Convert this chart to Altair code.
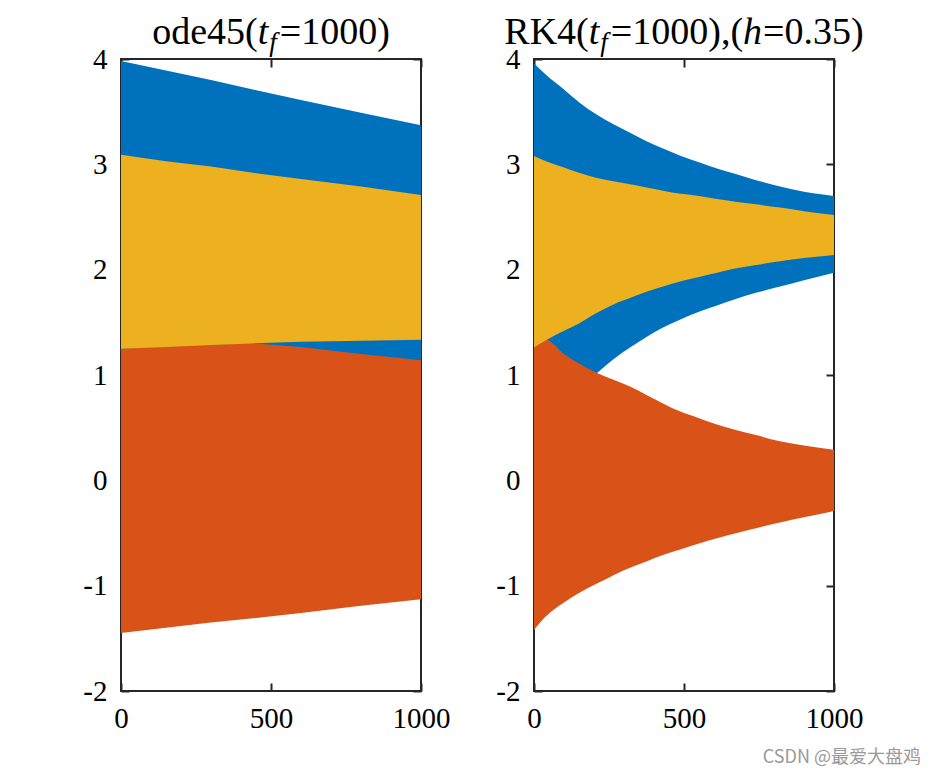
import altair as alt
import pandas as pd

# ---------------- data ----------------
X_TICKS = [0, 500, 1000]
Y_TICKS = [-2, -1, 0, 1, 2, 3, 4]

# ode45 panel: envelopes (upper / lower) of the three oscillating components
ODE_T = [0, 150, 300, 440, 600, 800, 1000]
ODE_BLUE_HI = [3.98, 3.89, 3.80, 3.71, 3.61, 3.49, 3.37]
ODE_BLUE_LO = [1.15, 1.14, 1.13, 1.12, 1.10, 1.08, 1.05]
ODE_ORANGE_HI = [1.25, 1.27, 1.29, 1.30, 1.265, 1.20, 1.14]
ODE_ORANGE_LO = [-1.45, -1.40, -1.35, -1.31, -1.26, -1.19, -1.13]
ODE_YELLOW_HI = [3.09, 3.03, 2.98, 2.92, 2.86, 2.79, 2.71]
ODE_YELLOW_LO = [1.25, 1.265, 1.285, 1.30, 1.315, 1.325, 1.335]

# RK4 panel
RK_T = [0, 40, 100, 150, 210, 265, 320, 375, 430, 490, 550, 610, 670, 740, 820, 900, 1000]
RK_BLUE_HI = [3.96, 3.85, 3.71, 3.59, 3.47, 3.38, 3.30, 3.22, 3.15, 3.08, 3.02, 2.96, 2.91, 2.85, 2.79, 2.74, 2.70]
RK_BLUE_LO = [0.50, 0.62, 0.78, 0.90, 1.02, 1.15, 1.26, 1.36, 1.45, 1.53, 1.60, 1.66, 1.72, 1.78, 1.84, 1.90, 1.97]
RK_ORANGE_HI = [1.26, 1.335, 1.20, 1.11, 1.02, 0.955, 0.89, 0.81, 0.73, 0.65, 0.59, 0.53, 0.48, 0.43, 0.37, 0.33, 0.29]
RK_ORANGE_LO = [-1.42, -1.29, -1.16, -1.07, -0.98, -0.90, -0.83, -0.77, -0.71, -0.655, -0.60, -0.55, -0.505, -0.455, -0.40, -0.35, -0.29]
RK_YELLOW_HI = [3.08, 3.03, 2.97, 2.92, 2.87, 2.84, 2.81, 2.78, 2.75, 2.72, 2.70, 2.67, 2.645, 2.62, 2.59, 2.555, 2.52]
RK_YELLOW_LO = [1.26, 1.33, 1.42, 1.49, 1.59, 1.67, 1.73, 1.79, 1.84, 1.89, 1.93, 1.97, 2.01, 2.045, 2.08, 2.11, 2.14]

TITLE_1 = [("ode45(", "n"), ("t", "i"), ("f", "s"), ("=1000)", "n")]
TITLE_2 = [("RK4(", "n"), ("t", "i"), ("f", "s"), ("=1000),(", "n"), ("h", "i"), ("=0.35)", "n")]
WATERMARK = "CSDN @最爱大盘鸡"

# ---------------- styling ----------------
BLUE, ORANGE, YELLOW = "#0072BD", "#D95319", "#EDB120"
AX = "#262626"
SERIF = "Liberation Serif"
W, H = 300, 632
TICK_FS = 29
TITLE_FS = 38
SUB_FS = 27

REG_W = {"o": .5, "d": .5, "e": .444, "(": .333, ")": .333, "=": .564, "R": .667,
         "K": .722, ",": .25, ".": .25}
for dgt in "0123456789":
    REG_W[dgt] = .5
ITA_W = {"t": .278, "f": .278, "h": .5}

xs = alt.Scale(domain=[0, 1000], nice=False, zero=False)
ys = alt.Scale(domain=[-2, 4], nice=False, zero=False)


def axis(orient, labels=True, values=None):
    pad = {"left": 14, "bottom": 13}.get(orient, 8)
    return alt.Axis(orient=orient, values=values, labels=labels, grid=False, domain=False,
                    ticks=True, tickSize=8, tickWidth=2, tickColor=AX, offset=-8,
                    labelFont=SERIF, labelFontSize=TICK_FS, labelColor="#000",
                    labelPadding=pad, labelFlush=False, labelOverlap=False, title=None,
                    labelExpr="'' + datum.value")


def band(t, hi, lo, color, xaxis, yaxis, interp):
    df = pd.DataFrame({"t": t, "hi": hi, "lo": lo})
    return alt.Chart(df).mark_area(color=color, opacity=1, interpolate=interp).encode(
        x=alt.X("t:Q", scale=xs, axis=xaxis),
        y=alt.Y("hi:Q", scale=ys, axis=yaxis),
        y2="lo:Q",
    )


def title_layers(pieces):
    widths = []
    for s, k in pieces:
        if k == "n":
            widths.append(sum(REG_W[c] for c in s) * TITLE_FS)
        elif k == "i":
            widths.append(sum(ITA_W[c] for c in s) * TITLE_FS + 1)
        else:
            widths.append(sum(ITA_W[c] for c in s) * SUB_FS + 3)
    total = sum(widths)
    x = W / 2 - total / 2
    layers = []
    one = pd.DataFrame({"k": [0]})
    for (s, k), w in zip(pieces, widths):
        if k == "n":
            m = alt.Chart(one).mark_text(text=s, font=SERIF, fontSize=TITLE_FS, color="#000",
                                         align="left", baseline="alphabetic")
            yv = -15
        elif k == "i":
            m = alt.Chart(one).mark_text(text=s, font=SERIF, fontSize=TITLE_FS, fontStyle="italic",
                                         color="#000", align="left", baseline="alphabetic")
            yv = -15
        else:
            m = alt.Chart(one).mark_text(text=s, font=SERIF, fontSize=SUB_FS, fontStyle="italic",
                                         color="#000", align="left", baseline="alphabetic")
            yv = -8
        layers.append(m.encode(x=alt.value(x), y=alt.value(yv)))
        x += w
    return layers


def panel(t, bh, bl, oh, ol, yh, yl, pieces, interp, extra=None):
    blue = band(t, bh, bl, BLUE, axis("bottom", values=X_TICKS), axis("left", values=Y_TICKS), interp)
    orange = band(t, oh, ol, ORANGE, None, None, interp)
    yellow = band(t, yh, yl, YELLOW, axis("top", labels=False, values=X_TICKS),
                  axis("right", labels=False, values=Y_TICKS), interp)
    layers = [blue, orange, yellow] + title_layers(pieces)
    if extra is not None:
        layers.append(extra)
    return alt.layer(*layers).resolve_axis(x="independent", y="independent").properties(
        width=W, height=H)


wm = alt.Chart(pd.DataFrame({"k": [0]})).mark_text(
    text=WATERMARK, font="Noto Sans CJK SC", fontSize=18, color="#9a9a9a",
    align="right", baseline="middle").encode(x=alt.value(387), y=alt.value(699))

p1 = panel(ODE_T, ODE_BLUE_HI, ODE_BLUE_LO, ODE_ORANGE_HI, ODE_ORANGE_LO,
           ODE_YELLOW_HI, ODE_YELLOW_LO, TITLE_1, "linear")
p2 = panel(RK_T, RK_BLUE_HI, RK_BLUE_LO, RK_ORANGE_HI, RK_ORANGE_LO,
           RK_YELLOW_HI, RK_YELLOW_LO, TITLE_2, "monotone", extra=wm)

chart = alt.hconcat(p1, p2, spacing=43).properties(
    padding={"left": 73, "top": 5, "right": 0, "bottom": 0},
    background="white",
).configure_view(stroke=AX, strokeWidth=2)

chart.save("out.html", embed_options={"renderer": "svg", "actions": False})
